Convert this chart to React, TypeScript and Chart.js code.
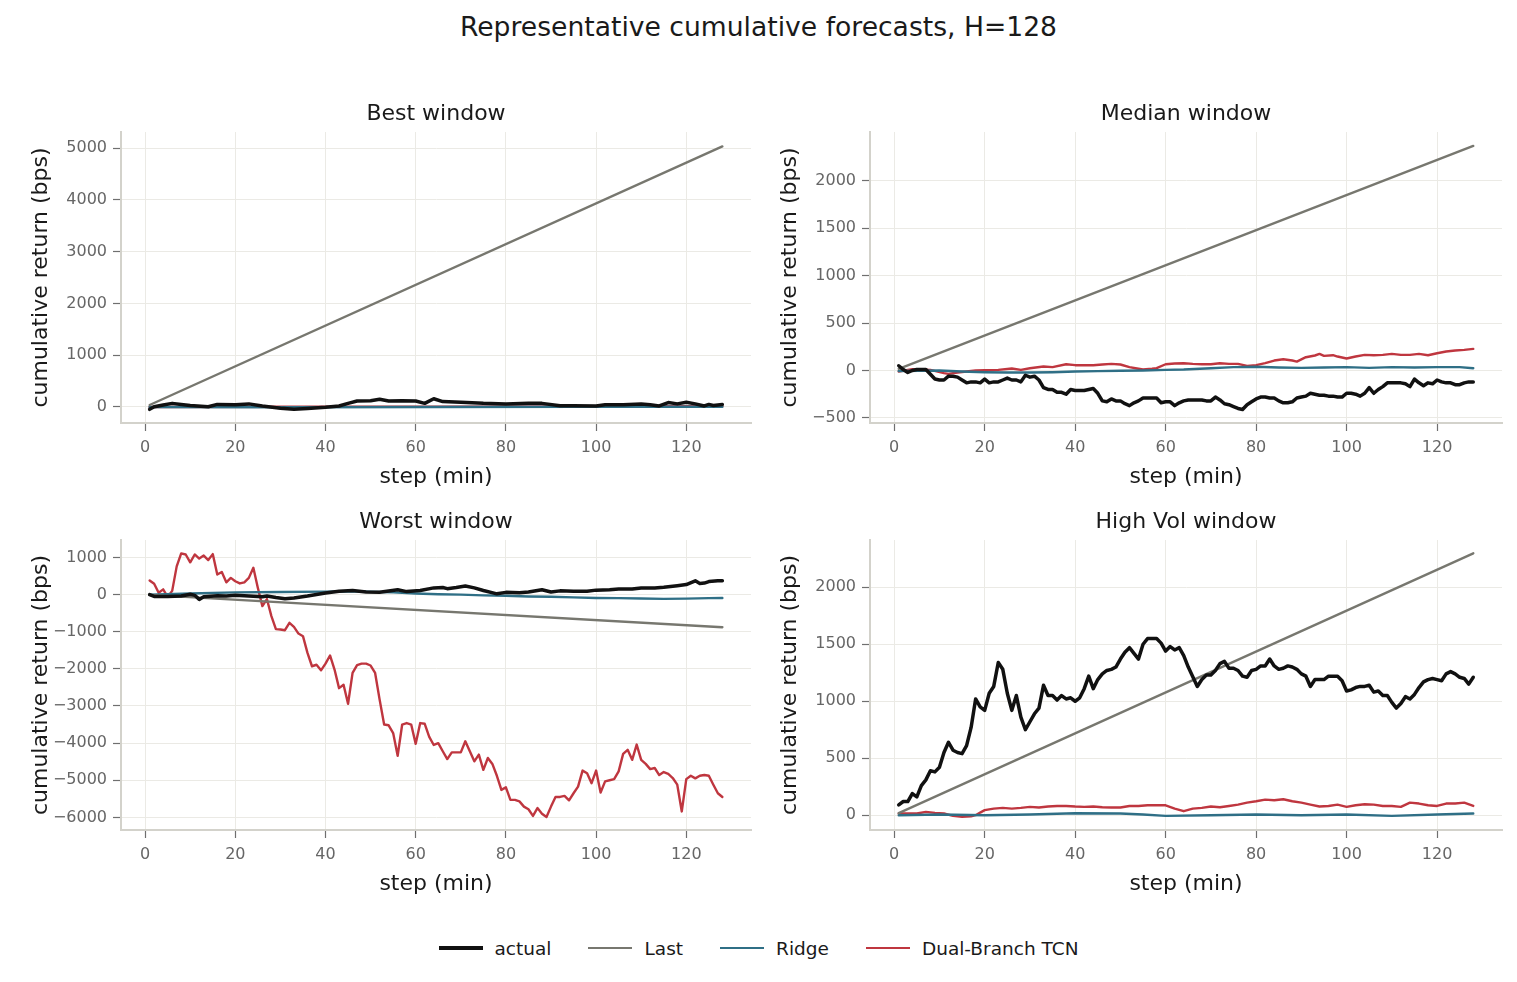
import { useEffect, useRef } from 'react'
import { Chart, registerables } from 'chart.js'

Chart.register(...registerables)

const FONT = '"DejaVu Sans", "Liberation Sans", sans-serif'
Chart.defaults.font.family = FONT

const C_ACTUAL = '#111111'
const C_LAST = '#77776f'
const C_RIDGE = '#2f6f86'
const C_TCN = '#bf363f'
const C_GRID = '#ebeae5'
const C_SPINE = '#d3d2cb'
const C_TICK = '#6f6f6f'
const C_TICK_LABEL = '#666666'
const C_TEXT = '#1a1a1a'

// layout of one panel canvas around its plot area
const PAD_L = 20
const PAD_R = 10
const Y_AXIS_W = 100
const TITLE_H = 42
const X_AXIS_H = 70

const X_MIN = -5.35
const X_MAX = 134.35
const X_TICKS = [0, 20, 40, 60, 80, 100, 120]
const STEPS = Array.from({ length: 128 }, (_, i) => i + 1)
const LAST_STEPS = [1, 128]

// Best window
const BEST_Y_TICKS = [0, 1000, 2000, 3000, 4000, 5000]
const BEST_ACTUAL_STEPS = [1, 2, 4, 6, 8, 10, 14, 16, 20, 23, 26, 30, 33, 36, 40, 43, 45, 47, 50, 52, 54, 57, 60, 62, 64, 66, 70, 75, 80, 85, 88, 92, 95, 100, 102, 106, 110, 112, 114, 116, 118, 120, 122, 124, 125, 126, 128]
const BEST_ACTUAL = [-45, 5, 40, 70, 50, 30, 5, 50, 45, 60, 20, -25, -45, -30, -5, 20, 70, 115, 120, 150, 115, 120, 115, 70, 160, 105, 90, 70, 60, 70, 70, 25, 25, 20, 45, 45, 60, 45, 20, 85, 60, 90, 60, 20, 50, 30, 50]
const BEST_LAST = [39, 5030]
const BEST_RIDGE_STEPS = [1, 32, 64, 96, 128]
const BEST_RIDGE = [0, -5, 0, 5, 5]
const BEST_TCN_STEPS = [1, 32, 64, 96, 128]
const BEST_TCN = [0, 5, 8, 12, 15]

// Median window
const MEDIAN_Y_TICKS = [-500, 0, 500, 1000, 1500, 2000]
const MEDIAN_ACTUAL = [
  50, 10, -20, 0, 10, 10, 10, -40, -90, -100,
  -100, -60, -60, -70, -100, -130, -120, -120, -130, -90,
  -130, -120, -120, -100, -80, -100, -100, -120, -50, -70,
  -60, -100, -180, -200, -200, -230, -230, -250, -200, -210,
  -210, -210, -200, -190, -240, -320, -330, -300, -320, -320,
  -350, -370, -340, -320, -290, -290, -290, -290, -340, -330,
  -330, -370, -340, -320, -310, -310, -310, -310, -320, -320,
  -280, -310, -350, -360, -380, -400, -410, -360, -330, -300,
  -280, -280, -290, -290, -320, -340, -340, -330, -290, -280,
  -270, -240, -250, -260, -260, -270, -270, -280, -280, -240,
  -240, -250, -270, -240, -180, -240, -200, -170, -130, -130,
  -130, -130, -140, -170, -90, -130, -160, -130, -140, -100,
  -120, -130, -130, -150, -150, -130, -120, -120,
]
const MEDIAN_LAST = [18, 2365]
const MEDIAN_RIDGE_STEPS = [1, 10, 15, 20, 25, 30, 35, 40, 45, 50, 55, 60, 64, 70, 75, 80, 85, 90, 95, 100, 105, 110, 115, 120, 125, 128]
const MEDIAN_RIDGE = [-5, 0, -10, -18, -21, -21, -18, -10, -7, -3, 0, 7, 10, 24, 35, 40, 32, 28, 32, 35, 28, 35, 32, 35, 35, 24]
const MEDIAN_TCN_STEPS = [1, 4, 8, 11, 12, 14, 16, 18, 20, 23, 26, 28, 30, 33, 35, 38, 40, 42, 44, 46, 48, 50, 52, 54, 55, 57, 58, 60, 62, 64, 66, 68, 70, 72, 74, 76, 78, 80, 82, 84, 86, 88, 89, 91, 93, 94, 95, 97, 98, 100, 102, 104, 106, 108, 110, 112, 114, 116, 118, 120, 122, 124, 126, 128]
const MEDIAN_TCN = [-10, 14, 7, -28, -35, -21, -10, 0, 3, 7, 21, 7, 24, 42, 35, 66, 56, 56, 56, 63, 70, 63, 35, 18, 10, 18, 24, 66, 73, 77, 70, 66, 66, 77, 70, 70, 49, 56, 77, 105, 119, 105, 94, 140, 158, 175, 154, 161, 147, 126, 147, 165, 161, 165, 175, 165, 165, 175, 161, 182, 200, 210, 217, 228]

// Worst window
const WORST_Y_TICKS = [-6000, -5000, -4000, -3000, -2000, -1000, 0, 1000]
const WORST_ACTUAL_STEPS = [1, 2, 5, 8, 10, 11, 12, 13, 16, 18, 20, 23, 26, 27, 29, 31, 33, 36, 38, 40, 43, 46, 49, 52, 56, 58, 61, 64, 66, 67, 69, 71, 73, 75, 78, 80, 83, 85, 88, 90, 92, 95, 98, 100, 103, 105, 108, 110, 113, 115, 118, 120, 122, 123, 124, 125, 127, 128]
const WORST_ACTUAL = [0, -50, -50, -40, 10, -20, -130, -60, -30, -40, -20, -40, -60, -40, -80, -110, -90, -40, 0, 40, 90, 110, 70, 60, 130, 80, 110, 180, 190, 160, 190, 230, 180, 110, 20, 60, 50, 70, 130, 70, 100, 90, 90, 120, 130, 150, 150, 180, 180, 200, 240, 270, 370, 300, 310, 350, 370, 370]
const WORST_LAST = [-7, -880]
const WORST_RIDGE_STEPS = [1, 10, 20, 30, 40, 45, 50, 55, 60, 65, 70, 75, 80, 85, 90, 95, 100, 105, 110, 115, 120, 125, 128]
const WORST_RIDGE = [0, 30, 60, 70, 80, 90, 75, 60, 30, 10, 0, -20, -30, -50, -60, -75, -90, -95, -105, -115, -110, -95, -90]
const WORST_TCN = [
  380, 290, 50, 140, -60, 100, 760, 1110, 1080, 870,
  1080, 970, 1050, 930, 1090, 540, 610, 330, 450, 360,
  300, 330, 450, 720, 180, -310, -120, -580, -930, -940,
  -960, -760, -870, -1050, -1120, -1570, -1930, -1890, -2040, -1860,
  -1640, -2020, -2520, -2430, -2940, -2110, -1900, -1860, -1860, -1910,
  -2110, -2830, -3500, -3520, -3730, -4340, -3500, -3460, -3500, -4020,
  -3460, -3480, -3830, -4050, -4000, -4220, -4430, -4250, -4250, -4250,
  -3950, -4220, -4490, -4310, -4720, -4400, -4560, -4880, -5260, -5190,
  -5530, -5530, -5570, -5710, -5780, -5960, -5750, -5900, -5990, -5710,
  -5450, -5450, -5420, -5540, -5350, -5170, -4740, -4810, -5080, -4740,
  -5330, -5030, -5000, -4970, -4760, -4290, -4180, -4450, -4040, -4450,
  -4560, -4700, -4670, -4860, -4780, -4830, -4940, -5120, -5840, -4970,
  -4880, -4950, -4880, -4860, -4880, -5120, -5350, -5450,
]

// High Vol window
const HIGHVOL_Y_TICKS = [0, 500, 1000, 1500, 2000]
const HIGHVOL_ACTUAL = [
  90, 120, 120, 190, 160, 260, 310, 390, 380, 420,
  550, 640, 570, 550, 540, 610, 770, 1020, 950, 920,
  1070, 1130, 1340, 1280, 1070, 920, 1050, 860, 750, 820,
  890, 940, 1140, 1050, 1050, 1010, 1050, 1020, 1030, 1000,
  1030, 1110, 1220, 1110, 1190, 1240, 1270, 1280, 1300, 1370,
  1430, 1470, 1420, 1370, 1500, 1550, 1550, 1550, 1510, 1440,
  1480, 1450, 1470, 1400, 1300, 1215, 1130, 1190, 1230, 1230,
  1270, 1330, 1350, 1290, 1290, 1270, 1220, 1210, 1270, 1280,
  1310, 1310, 1370, 1310, 1280, 1290, 1310, 1300, 1280, 1240,
  1220, 1130, 1190, 1190, 1190, 1220, 1220, 1220, 1180, 1090,
  1100, 1120, 1130, 1130, 1140, 1080, 1090, 1050, 1050, 990,
  940, 980, 1040, 1020, 1060, 1120, 1170, 1190, 1200, 1190,
  1180, 1240, 1260, 1240, 1210, 1200, 1150, 1210,
]
const HIGHVOL_LAST = [18, 2298]
const HIGHVOL_RIDGE_STEPS = [1, 10, 20, 30, 40, 50, 55, 60, 70, 80, 90, 100, 110, 120, 128]
const HIGHVOL_RIDGE = [0, 6, 0, 6, 17, 15, 6, -6, 0, 6, 0, 6, -6, 6, 15]
const HIGHVOL_TCN_STEPS = [1, 5, 7, 9, 11, 13, 15, 17, 18, 19, 20, 22, 24, 26, 28, 30, 32, 34, 36, 38, 40, 42, 44, 46, 48, 50, 52, 54, 56, 58, 60, 62, 64, 66, 68, 70, 72, 74, 76, 78, 80, 82, 84, 86, 88, 90, 92, 94, 96, 98, 100, 102, 104, 106, 108, 110, 112, 114, 116, 118, 120, 122, 124, 126, 128]
const HIGHVOL_TCN = [15, 15, 29, 20, 15, -6, -15, -9, 0, 23, 44, 58, 64, 58, 64, 73, 67, 76, 81, 81, 76, 73, 76, 70, 67, 67, 81, 81, 87, 87, 87, 58, 35, 58, 64, 76, 70, 81, 93, 110, 122, 137, 131, 140, 122, 110, 93, 76, 81, 93, 73, 87, 96, 93, 81, 81, 73, 110, 102, 87, 81, 102, 102, 110, 81]

const W_ACTUAL = 3.5
const W_MODEL = 2.4

const LEGEND = [
  { label: 'actual', color: C_ACTUAL, width: W_ACTUAL },
  { label: 'Last', color: C_LAST, width: W_MODEL },
  { label: 'Ridge', color: C_RIDGE, width: W_MODEL },
  { label: 'Dual-Branch TCN', color: C_TCN, width: W_MODEL },
]

function tickText(value: number | string) {
  const n = Number(value)
  return n < 0 ? `\u2212${Math.abs(n)}` : String(n)
}

function points(steps: number[], values: number[]) {
  return steps.map((x, i) => ({ x, y: values[i] }))
}

type Pt = { x: number; y: number }

type PanelProps = {
  title: string
  left: number
  top: number
  width: number
  height: number
  yMin: number
  yMax: number
  yTicks: number[]
  actual: Pt[]
  last: Pt[]
  ridge: Pt[]
  tcn: Pt[]
}

function Panel(p: PanelProps) {
  const canvasRef = useRef<HTMLCanvasElement | null>(null)

  useEffect(() => {
    if (!canvasRef.current) return undefined
    const line = (label: string, data: Pt[], color: string, width: number) => ({
      label,
      data,
      borderColor: color,
      backgroundColor: color,
      borderWidth: width,
      pointRadius: 0,
      tension: 0,
      fill: false,
      borderJoinStyle: 'round' as const,
      borderCapStyle: 'round' as const,
    })

    const chart = new Chart(canvasRef.current, {
      type: 'line',
      data: {
        datasets: [
          line('actual', p.actual, C_ACTUAL, W_ACTUAL),
          line('Last', p.last, C_LAST, W_MODEL),
          line('Ridge', p.ridge, C_RIDGE, W_MODEL),
          line('Dual-Branch TCN', p.tcn, C_TCN, W_MODEL),
        ],
      },
      options: {
        animation: false,
        responsive: true,
        maintainAspectRatio: false,
        layout: { padding: { left: PAD_L, right: PAD_R, top: 0, bottom: 0 } },
        plugins: {
          legend: { display: false },
          tooltip: { enabled: false },
          title: {
            display: true,
            fullSize: false,
            text: p.title,
            color: C_TEXT,
            font: { size: 22, weight: 'normal', lineHeight: 1.2 },
            padding: { top: 10.8, bottom: 4.8 },
          },
        },
        scales: {
          x: {
            type: 'linear',
            min: X_MIN,
            max: X_MAX,
            afterBuildTicks: (scale) => {
              scale.ticks = X_TICKS.map((value) => ({ value }))
            },
            afterFit: (scale) => {
              scale.height = X_AXIS_H
            },
            grid: { color: C_GRID, lineWidth: 1, tickLength: 8, tickColor: C_TICK, tickWidth: 1.2 },
            border: { color: C_SPINE, width: 2 },
            ticks: { color: C_TICK_LABEL, font: { size: 16 }, padding: 7, autoSkip: false, maxRotation: 0, callback: tickText },
            title: { display: true, text: 'step (min)', color: C_TEXT, font: { size: 22 }, padding: { top: 0, bottom: 2.8 } },
          },
          y: {
            type: 'linear',
            min: p.yMin,
            max: p.yMax,
            afterBuildTicks: (scale) => {
              scale.ticks = p.yTicks.map((value) => ({ value }))
            },
            afterFit: (scale) => {
              scale.width = Y_AXIS_W
            },
            grid: { color: C_GRID, lineWidth: 1, tickLength: 8, tickColor: C_TICK, tickWidth: 1.2 },
            border: { color: C_SPINE, width: 2 },
            ticks: { color: C_TICK_LABEL, font: { size: 16 }, padding: 6, autoSkip: false, callback: tickText },
            title: { display: true, text: 'cumulative return (bps)', color: C_TEXT, font: { size: 22 }, padding: { top: 6.8, bottom: 0 } },
          },
        },
      },
    })

    return () => chart.destroy()
  }, [])

  return (
    <div
      style={{
        position: 'absolute',
        left: p.left - Y_AXIS_W - PAD_L,
        top: p.top - TITLE_H,
        width: PAD_L + Y_AXIS_W + p.width + PAD_R,
        height: TITLE_H + p.height + X_AXIS_H,
      }}
    >
      <canvas ref={canvasRef} />
    </div>
  )
}

export default function App() {
  return (
    <div style={{ position: 'absolute', left: 0, top: 0, width: 1517, height: 982, background: '#ffffff', fontFamily: FONT, overflow: 'hidden' }}>
      <div style={{ position: 'absolute', left: 0, top: 12, width: 1517, textAlign: 'center', fontSize: 26.6, lineHeight: '30px', color: C_TEXT }}>
        Representative cumulative forecasts, H=128
      </div>

      <Panel
        title="Best window"
        left={121}
        top={132}
        width={630}
        height={291}
        yMin={-309}
        yMax={5309}
        yTicks={BEST_Y_TICKS}
        actual={points(BEST_ACTUAL_STEPS, BEST_ACTUAL)}
        last={points(LAST_STEPS, BEST_LAST)}
        ridge={points(BEST_RIDGE_STEPS, BEST_RIDGE)}
        tcn={points(BEST_TCN_STEPS, BEST_TCN)}
      />
      <Panel
        title="Median window"
        left={870}
        top={132}
        width={632}
        height={291}
        yMin={-553}
        yMax={2512}
        yTicks={MEDIAN_Y_TICKS}
        actual={points(STEPS, MEDIAN_ACTUAL)}
        last={points(LAST_STEPS, MEDIAN_LAST)}
        ridge={points(MEDIAN_RIDGE_STEPS, MEDIAN_RIDGE)}
        tcn={points(MEDIAN_TCN_STEPS, MEDIAN_TCN)}
      />
      <Panel
        title="Worst window"
        left={121}
        top={540}
        width={630}
        height={290}
        yMin={-6340}
        yMax={1470}
        yTicks={WORST_Y_TICKS}
        actual={points(WORST_ACTUAL_STEPS, WORST_ACTUAL)}
        last={points(LAST_STEPS, WORST_LAST)}
        ridge={points(WORST_RIDGE_STEPS, WORST_RIDGE)}
        tcn={points(STEPS, WORST_TCN)}
      />
      <Panel
        title="High Vol window"
        left={870}
        top={540}
        width={632}
        height={290}
        yMin={-130}
        yMax={2415}
        yTicks={HIGHVOL_Y_TICKS}
        actual={points(STEPS, HIGHVOL_ACTUAL)}
        last={points(LAST_STEPS, HIGHVOL_LAST)}
        ridge={points(HIGHVOL_RIDGE_STEPS, HIGHVOL_RIDGE)}
        tcn={points(HIGHVOL_TCN_STEPS, HIGHVOL_TCN)}
      />

      <div
        style={{
          position: 'absolute',
          left: 0,
          top: 933,
          width: 1517,
          height: 30,
          display: 'flex',
          justifyContent: 'center',
          alignItems: 'center',
          gap: 37,
          fontSize: 18.5,
          color: C_TEXT,
        }}
      >
        {LEGEND.map((item) => (
          <span key={item.label} style={{ display: 'flex', alignItems: 'center' }}>
            <i style={{ display: 'inline-block', width: 44, height: item.width, background: item.color, marginRight: 12 }} />
            {item.label}
          </span>
        ))}
      </div>
    </div>
  )
}
